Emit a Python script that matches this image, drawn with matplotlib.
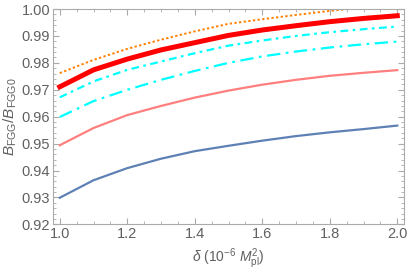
import matplotlib
matplotlib.use("Agg")
import matplotlib.pyplot as plt
from matplotlib.ticker import MultipleLocator

# delta in units of 1e-6 M_pl^2
delta = [1.0, 1.1, 1.2, 1.3, 1.4, 1.5, 1.6, 1.7, 1.8, 1.9, 2.0]

# B_FGG / B_FGG0 curves
b_blue = [0.9299, 0.9364, 0.9409, 0.9444, 0.9472, 0.9492, 0.9511, 0.9528, 0.9542, 0.9554, 0.9567]
b_pink = [0.9494, 0.9558, 0.9606, 0.9640, 0.9671, 0.9697, 0.9719, 0.9737, 0.9752, 0.9763, 0.9773]
b_cyan_long = [0.9599, 0.9658, 0.9700, 0.9737, 0.9770, 0.9800, 0.9824, 0.9842, 0.9857, 0.9869, 0.9879]
b_cyan_short = [0.9672, 0.9731, 0.9774, 0.9805, 0.9836, 0.9864, 0.9883, 0.9900, 0.9914, 0.9925, 0.9935]
b_red = [0.9711, 0.9774, 0.9814, 0.9848, 0.9875, 0.9902, 0.9922, 0.9938, 0.9953, 0.9965, 0.9975]
b_orange = [0.9762, 0.9811, 0.9852, 0.9886, 0.9917, 0.9945, 0.9962, 0.9978, 0.9993, 1.0006, 1.0018]

plt.rcParams['mathtext.fontset'] = 'custom'
plt.rcParams['mathtext.rm'] = 'Liberation Sans'
plt.rcParams['mathtext.it'] = 'Liberation Sans:italic'
plt.rcParams['font.family'] = 'Liberation Sans'

fig = plt.figure(figsize=(4.09, 2.73), dpi=100)
ax = fig.add_axes([0.1296, 0.178, 0.8582, 0.789])

ax.plot(delta, b_blue, color='#5E81B5', lw=1.6)
ax.plot(delta, b_pink, color='#FF7F7F', lw=1.6)
ax.plot(delta, b_cyan_long, color='#00FFFF', lw=1.6, dashes=(6, 2.5, 1.2, 2.5))
ax.plot(delta, b_cyan_short, color='#00FFFF', lw=1.6, dashes=(3.5, 2, 1.2, 2))
ax.plot(delta, b_red, color='#FF0000', lw=3.6)
ax.plot(delta, b_orange, color='#FF8000', lw=1.4, dashes=(1.2, 1.2))

ax.set_xlim(0.98, 2.02)
ax.set_ylim(0.92, 1.0)
ax.xaxis.set_major_locator(MultipleLocator(0.2))
ax.xaxis.set_minor_locator(MultipleLocator(0.05))
ax.yaxis.set_major_locator(MultipleLocator(0.01))
ax.yaxis.set_minor_locator(MultipleLocator(0.002))
ax.xaxis.set_major_formatter(matplotlib.ticker.FormatStrFormatter('%.1f'))
ax.yaxis.set_major_formatter(matplotlib.ticker.FormatStrFormatter('%.2f'))

for s in ax.spines.values():
    s.set_color('#AAAAAA')
    s.set_linewidth(0.8)
ax.tick_params(which='both', direction='in', top=True, right=True, color='#AAAAAA',
               labelcolor='#606060', labelsize=10.5)
ax.tick_params(which='major', length=4, width=0.8, pad=2)
ax.tick_params(which='minor', length=2, width=0.6)

ax.set_xlabel(r'$\delta\ (10^{-6}\ M_{\rm pl}^{2})$', color='#606060', fontsize=10, labelpad=4)
ax.set_ylabel(r'$B_{\rm FGG}/B_{\rm FGG0}$', color='#606060', fontsize=11, labelpad=2)

fig.savefig('out.png', dpi=100)
